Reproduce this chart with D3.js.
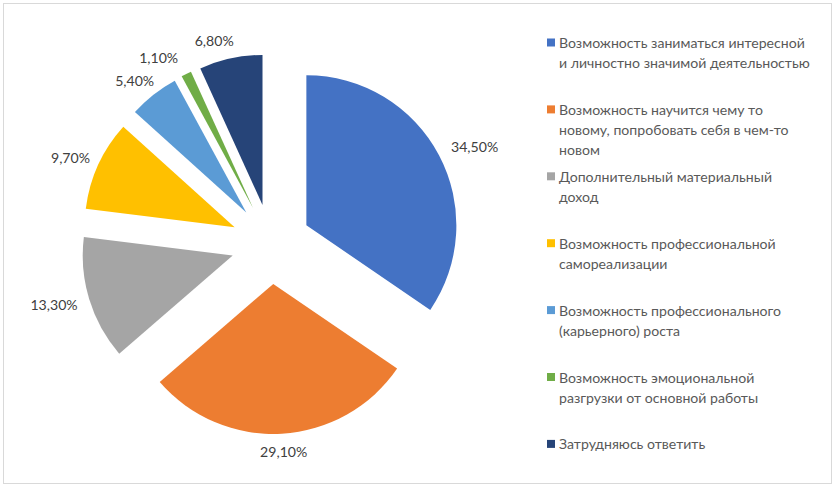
<!DOCTYPE html>
<html><head><meta charset="utf-8">
<script src="https://cdn.jsdelivr.net/npm/d3@7"></script>
<style>html,body{margin:0;padding:0;background:#fff;}</style>
</head><body>
<svg id="c" width="835" height="487"></svg>
<script>
const categories = [
  "Возможность заниматься интересной\nи личностно значимой деятельностью",
  "Возможность научится чему то\nновому, попробовать себя в чем-то\nновом",
  "Дополнительный материальный\nдоход",
  "Возможность профессиональной\nсамореализации",
  "Возможность профессионального\n(карьерного) роста",
  "Возможность эмоциональной\nразгрузки от основной работы",
  "Затрудняюсь ответить"
];
const values = [34.5, 29.1, 13.3, 9.7, 5.4, 1.1, 6.8];
const colors = ["#4472C4", "#ED7D31", "#A5A5A5", "#FFC000", "#5B9BD5", "#70AD47", "#264478"];

const svg = d3.select("#c");
const FONT = "Lato, 'Open Sans', sans-serif";
const FS = 14.1;

svg.append("rect").attr("x", 3.5).attr("y", 3.5).attr("width", 828).attr("height", 480)
  .attr("fill", "#fff").attr("stroke", "#d9d9d9").attr("stroke-width", 1);

const cx = 271, cy = 244, r = 150, explode = 40;
const pie = d3.pie().sort(null).value(d => d)(values);
const arc = d3.arc().innerRadius(0).outerRadius(r);
const fmt = v => d3.format(".2f")(v).replace(".", ",") + "%";
// small horizontal shifts Excel applied to avoid label crowding
const labelShift = [5, 0, -2, 0, 0, -14, -10];

const g = svg.append("g").attr("transform", `translate(${cx},${cy})`);
pie.forEach((p, i) => {
  const mid = (p.startAngle + p.endAngle) / 2;
  const ox = explode * Math.sin(mid), oy = -explode * Math.cos(mid);
  g.append("path").attr("d", arc(p)).attr("fill", colors[i])
    .attr("transform", `translate(${ox},${oy})`);
  const t = g.append("text").attr("text-anchor", "middle")
    .attr("dominant-baseline", "central").attr("font-family", FONT).attr("font-size", FS)
    .attr("fill", "#404040").text(fmt(values[i]));
  const w = t.node().getComputedTextLength(), h = 14;
  const R = r + 11;
  const px = ox + R * Math.sin(mid), py = oy - R * Math.cos(mid);
  const lx = px + Math.sin(mid) * w / 2 + labelShift[i], ly = py - Math.cos(mid) * h / 2;
  t.attr("x", lx).attr("y", ly);
});

const leg = svg.append("g");
categories.forEach((c, i) => {
  const y0 = 42.5 + 66.9 * i;
  leg.append("rect").attr("x", 547).attr("y", y0 - 4).attr("width", 8).attr("height", 8).attr("fill", colors[i]);
  const t = leg.append("text").attr("font-family", FONT).attr("font-size", FS).attr("fill", "#595959");
  c.split("\n").forEach((line, j) => {
    t.append("tspan").attr("x", 559).attr("y", y0 + j * 20).attr("dominant-baseline", "central").text(line);
  });
});
</script>
</body></html>
